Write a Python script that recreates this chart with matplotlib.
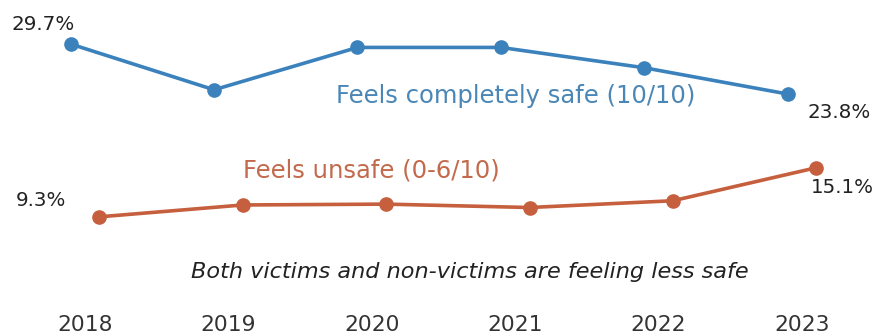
import matplotlib
matplotlib.use("Agg")
import matplotlib.pyplot as plt

years = [2018, 2019, 2020, 2021, 2022, 2023]
safe_pct = [29.7, 24.3, 29.3, 29.3, 26.9, 23.8]
unsafe_pct = [9.3, 10.7, 10.8, 10.4, 11.2, 15.1]

SAFE_COLOR = "#3b82bd"
UNSAFE_COLOR = "#c65f3d"
OFFSET = 0.1

fig = plt.figure(figsize=(8.78, 3.35), dpi=100)
ax = fig.add_axes([0, 30 / 335, 1, 305 / 335])

safe_x = [y - OFFSET for y in years]
unsafe_x = [y + OFFSET for y in years]
ax.plot(safe_x, safe_pct, color=SAFE_COLOR, lw=2.6, marker="o", ms=9.5)
ax.plot(unsafe_x, unsafe_pct, color=UNSAFE_COLOR, lw=2.6, marker="o", ms=9.5)

label_kw = dict(textcoords="offset points", ha="center", va="center", fontsize=14.3, color="#222222")
ax.annotate(f"{safe_pct[0]}%", (safe_x[0], safe_pct[0]), xytext=(-20, 14), **label_kw)
ax.annotate(f"{safe_pct[-1]}%", (safe_x[-1], safe_pct[-1]), xytext=(37, -13), **label_kw)
ax.annotate(f"{unsafe_pct[0]}%", (unsafe_x[0], unsafe_pct[0]), xytext=(-42, 12), **label_kw)
ax.annotate(f"{unsafe_pct[-1]}%", (unsafe_x[-1], unsafe_pct[-1]), xytext=(19, -14), **label_kw)

ax.text(2021.0, 23.56, "Feels completely safe (10/10)", ha="center", va="center",
        fontsize=17.5, color="#4a87b6")
ax.text(2020.0, 14.82, "Feels unsafe (0-6/10)", ha="center", va="center",
        fontsize=17.5, color="#c26a4b")
ax.text(2020.68, 2.78, "Both victims and non-victims are feeling less safe", ha="center",
        va="center", fontsize=16.1, style="italic", color="#222222")

ax.set_xlim(2017.407, 2023.53)
ax.set_ylim(-1.11, 34.9)
ax.set_xticks(years)
ax.set_xticklabels([str(y) for y in years], fontsize=15.7, color="#333333")
ax.tick_params(axis="x", length=0, pad=7)
ax.set_yticks([])
for spine in ax.spines.values():
    spine.set_visible(False)

fig.savefig("out.png", dpi=100)
